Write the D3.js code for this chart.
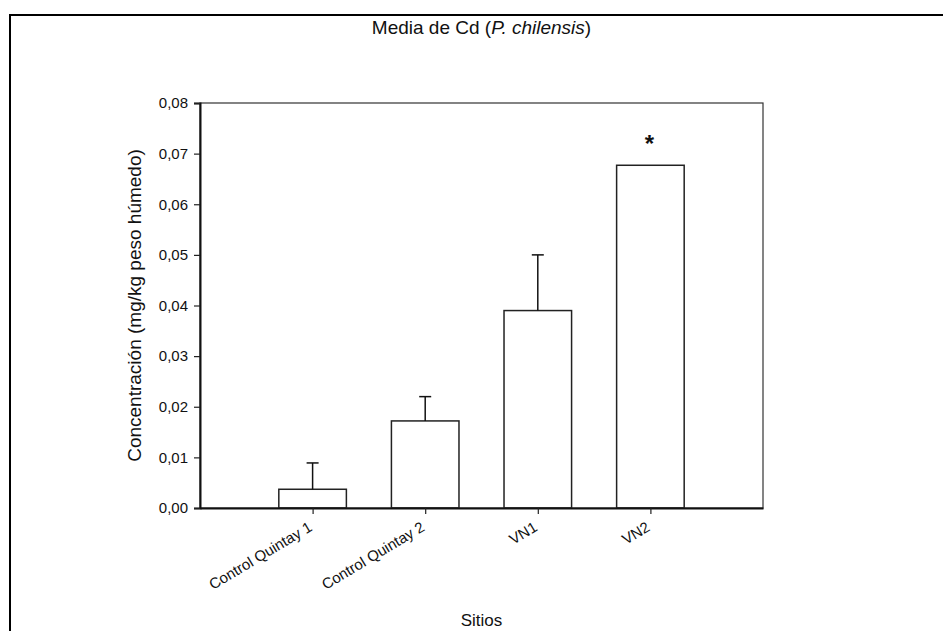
<!DOCTYPE html>
<html>
<head>
<meta charset="utf-8">
<script src="https://cdn.jsdelivr.net/npm/d3@7"></script>
<style>
  body { margin: 0; background: #fff; }
  text { font-family: Arial, "Liberation Sans", sans-serif; fill: #111; }
</style>
</head>
<body>
<div id="chart"></div>
<script>
// Data
const sites = ["Control Quintay 1", "Control Quintay 2", "VN1", "VN2"];
const means = [0.0037, 0.0172, 0.039, 0.0677];
const errors = [0.0052, 0.0048, 0.011, 0];
const marks = ["", "", "", "*"];
const yTicks = [0, 0.01, 0.02, 0.03, 0.04, 0.05, 0.06, 0.07, 0.08];

// Chart setup
const width = 943;
const height = 631;
const margin = { top: 103, right: 180, bottom: 123, left: 200 };

const svg = d3.select('#chart')
  .append('svg')
  .attr('width', width)
  .attr('height', height);

// outer frame (runs off the right and bottom edges)
svg.append('rect')
  .attr('x', 10)
  .attr('y', 15)
  .attr('width', 1000)
  .attr('height', 1000)
  .attr('fill', 'none')
  .attr('stroke', '#000')
  .attr('stroke-width', 2);

// Scales: categories sit at 1..4 on a 0..5 axis
const x = d3.scaleLinear()
  .domain([0, 5])
  .range([margin.left, width - margin.right]);

const y = d3.scaleLinear()
  .domain([0, 0.08])
  .range([height - margin.bottom, margin.top]);

const barW = 0.6;
const fmt = d => d3.format('.2f')(d).replace('.', ',');

// Bars
svg.append('g')
  .selectAll('rect')
  .data(means)
  .enter().append('rect')
  .attr('x', (d, i) => x(i + 1 - barW / 2))
  .attr('y', d => y(d))
  .attr('width', x(barW) - x(0))
  .attr('height', d => y(0) - y(d))
  .attr('fill', '#fff')
  .attr('stroke', '#222')
  .attr('stroke-width', 1.5);

// Error bars (upper only)
const err = svg.append('g')
  .selectAll('g')
  .data(means.map((m, i) => ({ m, e: errors[i], i })).filter(d => d.e > 0))
  .enter().append('g');

err.append('line')
  .attr('x1', d => x(d.i + 1))
  .attr('x2', d => x(d.i + 1))
  .attr('y1', d => y(d.m))
  .attr('y2', d => y(d.m + d.e))
  .attr('stroke', '#111')
  .attr('stroke-width', 1.5);

err.append('line')
  .attr('x1', d => x(d.i + 1) - 6)
  .attr('x2', d => x(d.i + 1) + 6)
  .attr('y1', d => y(d.m + d.e))
  .attr('y2', d => y(d.m + d.e))
  .attr('stroke', '#111')
  .attr('stroke-width', 1.5);

// Significance marks
svg.append('g')
  .selectAll('text')
  .data(marks)
  .enter().append('text')
  .attr('x', (d, i) => x(i + 1) - 1)
  .attr('y', (d, i) => y(means[i] + errors[i]) - 13)
  .attr('text-anchor', 'middle')
  .style('font-size', '24px')
  .style('font-weight', 'bold')
  .text(d => d);

// Plot box
svg.append('rect')
  .attr('x', x(0))
  .attr('y', y(0.08))
  .attr('width', x(5) - x(0))
  .attr('height', y(0) - y(0.08))
  .attr('fill', 'none')
  .attr('stroke', '#333')
  .attr('stroke-width', 1.2);

// Y axis
const yAxis = svg.append('g')
  .attr('transform', `translate(${x(0)},0)`)
  .call(d3.axisLeft(y).tickValues(yTicks).tickFormat(fmt).tickSize(6).tickPadding(6));
yAxis.select('.domain').attr('stroke', '#111').attr('stroke-width', 2);
yAxis.selectAll('.tick line').attr('stroke', '#222').attr('stroke-width', 1.2);
yAxis.selectAll('text')
  .style('font-size', '15px')
  .style('font-family', 'Arial, "Liberation Sans", sans-serif')
  .attr('fill', '#111');

// X axis
const xAxis = svg.append('g')
  .attr('transform', `translate(0,${y(0)})`)
  .call(d3.axisBottom(x).tickValues([1, 2, 3, 4]).tickFormat(d => sites[d - 1]).tickSize(6).tickSizeOuter(0));
xAxis.select('.domain').attr('stroke', '#111').attr('stroke-width', 2);
xAxis.selectAll('.tick line').attr('stroke', '#222').attr('stroke-width', 1.2);
xAxis.selectAll('text')
  .style('font-size', '15px')
  .style('font-family', 'Arial, "Liberation Sans", sans-serif')
  .attr('fill', '#111')
  .attr('text-anchor', 'end')
  .attr('dy', null)
  .attr('y', 0)
  .attr('transform', 'translate(0,22) rotate(-31)');

// Title
const title = svg.append('text')
  .attr('x', (x(0) + x(5)) / 2)
  .attr('y', 34)
  .attr('text-anchor', 'middle')
  .style('font-size', '19px');
title.append('tspan').text('Media de Cd (');
title.append('tspan').style('font-style', 'italic').text('P. chilensis');
title.append('tspan').text(')');

// Axis labels
svg.append('text')
  .attr('x', (x(0) + x(5)) / 2)
  .attr('y', 626)
  .attr('text-anchor', 'middle')
  .style('font-size', '17px')
  .text('Sitios');

svg.append('text')
  .attr('transform', `translate(141,${(y(0) + y(0.08)) / 2}) rotate(-90)`)
  .attr('text-anchor', 'middle')
  .style('font-size', '19px')
  .text('Concentración (mg/kg peso húmedo)');
</script>
</body>
</html>
